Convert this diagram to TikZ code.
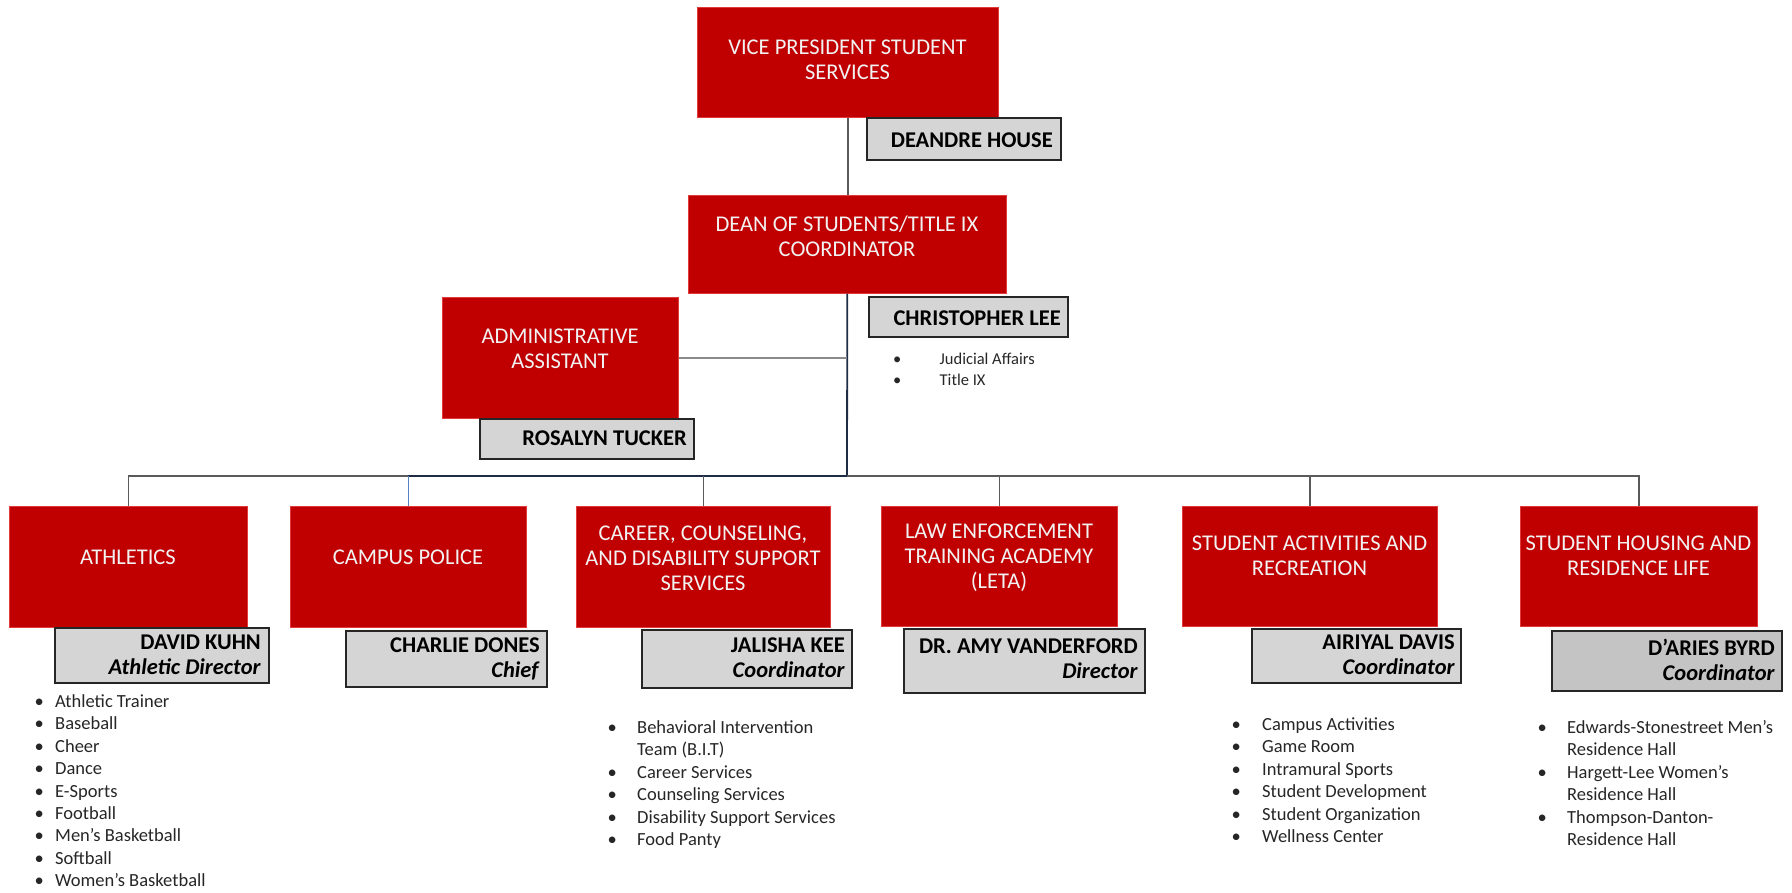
\documentclass[tikz,border=0pt]{standalone}
\usepackage{fontspec}
\setmainfont{Carlito}
\definecolor{boxred}{HTML}{C00000}
\definecolor{boxredline}{HTML}{E03A3A}
\definecolor{namegray}{HTML}{D6D5D6}
\definecolor{namegraydk}{HTML}{C4C4C4}
\definecolor{linegray}{HTML}{5A5A5A}
\definecolor{lightline}{HTML}{8A8A8A}
\definecolor{linenavy}{HTML}{1F2C45}
\definecolor{lineblue}{HTML}{5B80C2}
\definecolor{listtext}{HTML}{262626}
\tikzset{
  redbox/.style={fill=boxred, draw=boxredline, line width=0.6pt, inner sep=0pt},
  namebox/.style={fill=namegray, draw=black!85, line width=1.6pt, inner sep=0pt},
  nameboxdk/.style={namebox, fill=namegraydk},
  redtxt/.style={inner sep=0pt, anchor=north, align=center, text=white!95!black, font=\fontsize{22.5}{25}\selectfont},
  nametxt/.style={inner sep=0pt, anchor=north east, align=right, text=black, font=\fontsize{22.5}{25}\selectfont\bfseries},
  listtxt/.style={inner sep=0pt, anchor=base west, text=listtext, font=\fontsize{18.5}{22.4}\selectfont},
  smalllist/.style={inner sep=0pt, anchor=base west, text=listtext, font=\fontsize{16.5}{20.5}\selectfont},
  conn/.style={draw=linegray, line width=1.6pt},
  connlight/.style={draw=lightline, line width=2.4pt},
  connnavy/.style={draw=linenavy, line width=1.8pt},
  connblue/.style={draw=lineblue, line width=1.4pt},
}
\newcommand\orgbox[6]{\node[#2, anchor=north west, minimum width={(#5-#3)*1pt}, minimum height={(#6-#4)*1pt}] (#1) at (#3,#4) {};}
\begin{document}
\begin{tikzpicture}[x=1pt,y=-1pt]
\useasboundingbox (0,0) rectangle (1792,892);
% ---- red boxes ----
\orgbox{vp}{redbox}{697}{7}{998}{117}
\orgbox{dean}{redbox}{688}{195}{1006}{293}
\orgbox{admin}{redbox}{442}{297}{678}{418}
\orgbox{ath}{redbox}{9}{506}{247}{627}
\orgbox{cp}{redbox}{290}{506}{526}{627}
\orgbox{car}{redbox}{576}{506}{830}{627}
\orgbox{leta}{redbox}{881}{506}{1117}{626}
\orgbox{sa}{redbox}{1182}{506}{1437}{626}
\orgbox{hous}{redbox}{1520}{506}{1757}{626}
% ---- connectors ----
\coordinate (bus) at (847,476);
\draw[conn] (vp.south) -- (vp.south |- dean.north);
\draw[connnavy] (dean.south) -- (bus);
\draw[connlight] (admin.east) -- (admin.east -| bus);
\draw[connnavy] (bus) -- (bus -| cp.north);
\draw[conn] (bus -| cp.north) -| (ath.north);
\draw[connblue] (bus -| cp.north) -- (cp.north);
\draw[conn] (bus -| car.north) -- (car.north);
\draw[conn] (bus) -| (hous.north);
\draw[conn] (bus -| leta.north) -- (leta.north);
\draw[conn] (bus -| sa.north) -- (sa.north);
% ---- name boxes ----
\orgbox{vpn}{namebox}{866}{117}{1060}{159}
\orgbox{deann}{namebox}{868}{296}{1067}{336}
\orgbox{adminn}{namebox}{479}{418}{693}{458}
\orgbox{athn}{namebox}{54}{627}{268}{682}
\orgbox{cpn}{namebox}{345}{630}{546}{686}
\orgbox{carn}{namebox}{641}{629}{851}{687}
\orgbox{letan}{namebox}{903}{628}{1144}{692}
\orgbox{san}{namebox}{1251}{628}{1460}{682}
\orgbox{housn}{nameboxdk}{1551}{630}{1781}{690}
% ---- red box texts ----
\node[redtxt] (vpT) at (847.5,39.8) {VICE PRESIDENT STUDENT\\SERVICES};
\node[redtxt] (deanT) at (847,215.8) {DEAN OF STUDENTS/TITLE IX\\COORDINATOR};
\node[redtxt] (adminT) at (560,328.8) {ADMINISTRATIVE\\ASSISTANT};
\node[redtxt] (athT) at (128,549.8) {ATHLETICS};
\node[redtxt] (cpT) at (408,549.8) {CAMPUS POLICE};
\node[redtxt] (carT) at (703,525.5) {CAREER, COUNSELING,\\AND DISABILITY SUPPORT\\SERVICES};
\node[redtxt] (letaT) at (999,523.8) {LAW ENFORCEMENT\\TRAINING ACADEMY\\(LETA)};
\node[redtxt] (saT) at (1309.5,535.8) {STUDENT ACTIVITIES AND\\RECREATION};
\node[redtxt] (housT) at (1638.5,535.8) {STUDENT HOUSING AND\\RESIDENCE LIFE};
% ---- name texts ----
\node[nametxt] (vpnT) at (1053,132.8) {DEANDRE HOUSE};
\node[nametxt] (deannT) at (1061,310.8) {CHRISTOPHER LEE};
\node[nametxt] (adminnT) at (687,430.5) {ROSALYN TUCKER};
\node[nametxt] (athnT) at (261,634.8) {DAVID KUHN\\\textit{Athletic Director}};
\node[nametxt] (cpnT) at (540,638) {CHARLIE DONES\\\textit{Chief}};
\node[nametxt] (carnT) at (845,637.5) {JALISHA KEE\\\textit{Coordinator}};
\node[nametxt] (letanT) at (1138,639) {DR. AMY VANDERFORD\\\textit{Director}};
\node[nametxt] (sanT) at (1455,634.8) {AIRIYAL DAVIS\\\textit{Coordinator}};
\node[nametxt] (housnT) at (1775,638.5) {D’ARIES BYRD\\\textit{Coordinator}};
% ---- bullet lists ----
\node[smalllist] (deanL) at (893,364.5) {\begin{tabular}[t]{@{}p{46.5pt}@{}l@{}}
\textbullet & Judicial Affairs\\
\textbullet & Title IX
\end{tabular}};
\node[listtxt] (athL) at (34.4,707.5) {\begin{tabular}[t]{@{}p{20.6pt}@{}l@{}}
\textbullet & Athletic Trainer\\
\textbullet & Baseball\\
\textbullet & Cheer\\
\textbullet & Dance\\
\textbullet & E-Sports\\
\textbullet & Football\\
\textbullet & Men’s Basketball\\
\textbullet & Softball\\
\textbullet & Women’s Basketball
\end{tabular}};
\node[listtxt] (carL) at (607.4,733.5) {\begin{tabular}[t]{@{}p{29.6pt}@{}l@{}}
\textbullet & Behavioral Intervention\\
 & Team (B.I.T)\\
\textbullet & Career Services\\
\textbullet & Counseling Services\\
\textbullet & Disability Support Services\\
\textbullet & Food Panty
\end{tabular}};
\node[listtxt] (saL) at (1231.4,730.5) {\begin{tabular}[t]{@{}p{30.6pt}@{}l@{}}
\textbullet & Campus Activities\\
\textbullet & Game Room\\
\textbullet & Intramural Sports\\
\textbullet & Student Development\\
\textbullet & Student Organization\\
\textbullet & Wellness Center
\end{tabular}};
\node[listtxt] (housL) at (1537.4,733.5) {\begin{tabular}[t]{@{}p{29.6pt}@{}l@{}}
\textbullet & Edwards-Stonestreet Men’s\\
 & Residence Hall\\
\textbullet & Hargett-Lee Women’s\\
 & Residence Hall\\
\textbullet & Thompson-Danton-\\
 & Residence Hall
\end{tabular}};
\end{tikzpicture}
\end{document}
